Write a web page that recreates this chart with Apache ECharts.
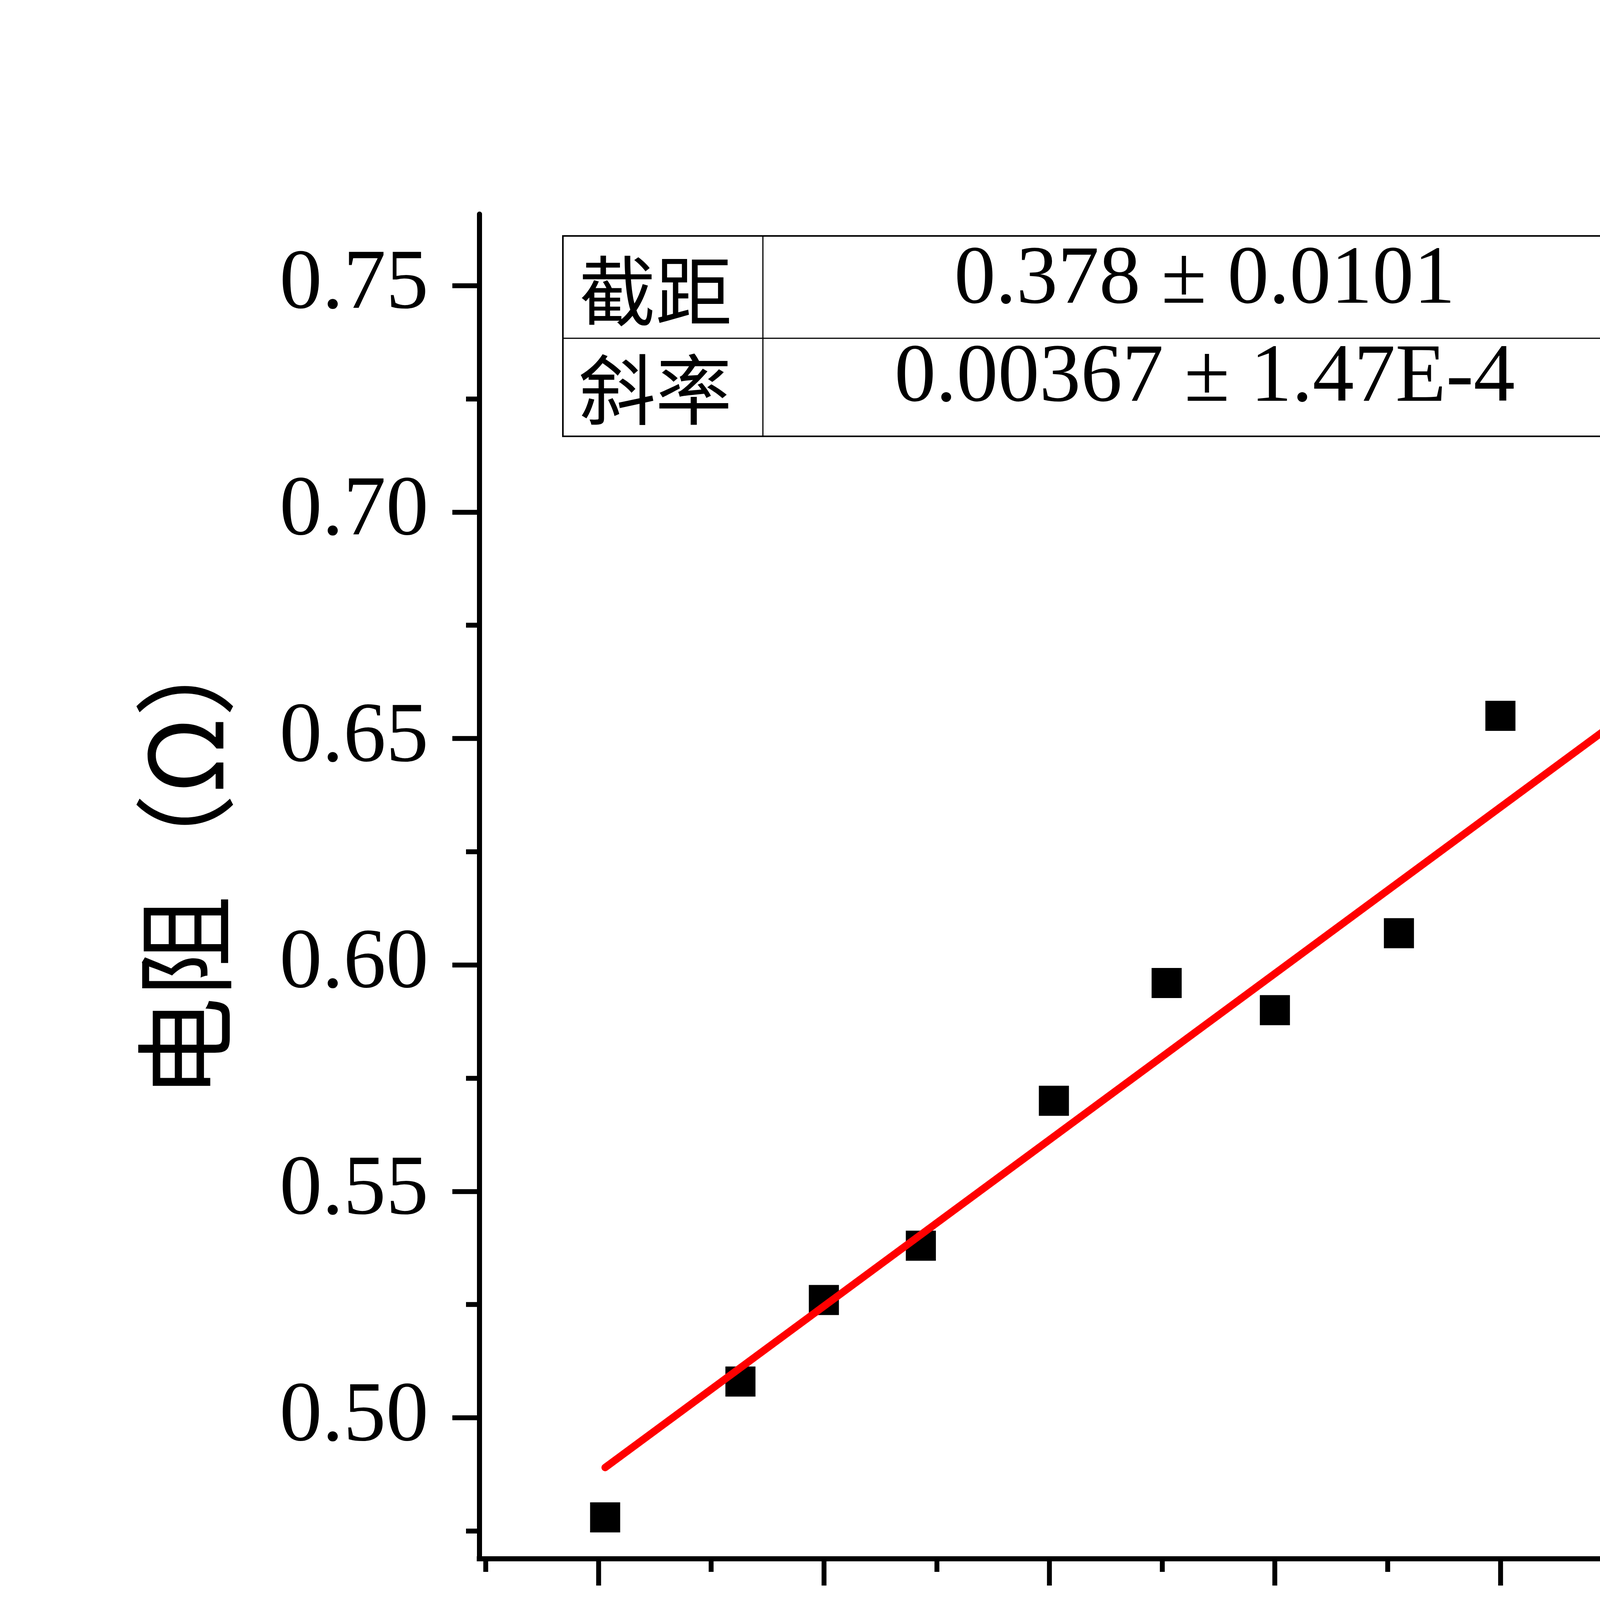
<!DOCTYPE html>
<html>
<head>
<meta charset="utf-8">
<script src="https://cdn.jsdelivr.net/npm/echarts@6/dist/echarts.min.js"></script>
<style>
  html, body { margin: 0; padding: 0; background: #fff; }
  #main { width: 6848px; height: 4784px; }
</style>
</head>
<body>
<div id="main"></div>
<script>
// 温度 (℃) 与 电阻 (Ω) 测量数据
var temps = [30.3, 36.3, 40.0, 44.3, 50.2, 55.2, 60.0, 65.5, 70.0, 75.2, 80.0, 85.2, 90.2, 95.0, 100.0];
var resist = [0.478, 0.508, 0.526, 0.538, 0.570, 0.596, 0.590, 0.607, 0.655, 0.667, 0.654, 0.691, 0.724, 0.720, 0.732];

// 线性拟合直线的两个端点
var fitX = [30.3, 100.0];
var fitY = [0.489, 0.745];

// 刻度
var xMajor = [30, 40, 50, 60, 70, 80, 90, 100];
var xMinor = [25, 35, 45, 55, 65, 75, 85, 95, 105];
var yMajor = [0.50, 0.55, 0.60, 0.65, 0.70, 0.75];
var yMinor = [0.475, 0.525, 0.575, 0.625, 0.675, 0.725];

// 拟合结果表
var fitNames = ['截距', '斜率'];
var fitValues = ['0.378 ± 0.0101', '0.00367 ± 1.47E-4'];

var serif = "'Liberation Serif', 'Noto Sans CJK SC', serif";
var cjk = "'Noto Sans CJK SC', sans-serif";

var chart = echarts.init(document.getElementById('main'), null, {
  renderer: 'canvas',
  devicePixelRatio: 1
});

var scatterData = temps.map(function (t, i) { return [t, resist[i]]; });
var fitData = fitX.map(function (t, i) { return [t, fitY[i]]; });

function majorAxis(opt) {
  return Object.assign({
    type: 'value',
    gridIndex: 0,
    axisLine: { show: true, onZero: false, lineStyle: { color: '#000', width: 13 } },
    axisTick: { show: true, inside: false, length: 69, lineStyle: { color: '#000', width: 12.5 } },
    axisLabel: { color: '#000', fontSize: 218, fontFamily: serif },
    splitLine: { show: false },
    nameTextStyle: { color: '#000', fontSize: 260, fontFamily: cjk }
  }, opt);
}

function minorAxis(opt) {
  return Object.assign({
    type: 'value',
    gridIndex: 0,
    axisLine: { show: false, onZero: false },
    axisTick: { show: true, inside: false, length: 34, lineStyle: { color: '#000', width: 12.5 } },
    axisLabel: { show: false },
    splitLine: { show: false }
  }, opt);
}

var option = {
  backgroundColor: '#fff',
  animation: false,
  grid: {
    left: 1227,
    right: 946,
    top: 548,
    bottom: 794,
    containLabel: false
  },
  xAxis: [
    majorAxis({
      position: 'bottom',
      min: 24.72,
      max: 105.7,
      axisLine: { show: true, onZero: false, lineStyle: { color: '#000', width: 13, cap: 'square' } },
      axisTick: { show: true, inside: false, length: 69, customValues: xMajor, lineStyle: { color: '#000', width: 12.5 } },
      axisLabel: { color: '#000', fontSize: 218, fontFamily: serif, margin: 120, customValues: xMajor },
      name: '温度（℃）',
      nameLocation: 'middle',
      nameGap: 405,
      nameTextStyle: { color: '#000', fontSize: 260, fontFamily: cjk, padding: [0, 0, 0, 80] }
    }),
    minorAxis({
      position: 'bottom',
      min: 24.72,
      max: 105.7,
      axisTick: { show: true, inside: false, length: 34, customValues: xMinor, lineStyle: { color: '#000', width: 12.5 } }
    })
  ],
  yAxis: [
    majorAxis({
      position: 'left',
      min: 0.4689,
      max: 0.7658,
      axisTick: { show: true, inside: false, length: 69, customValues: yMajor, lineStyle: { color: '#000', width: 12.5 } },
      axisLabel: {
        color: '#000', fontSize: 218, fontFamily: serif, margin: 130, customValues: yMajor,
        formatter: function (v) { return v.toFixed(2); }
      },
      name: '电阻（Ω）',
      nameLocation: 'middle',
      nameRotate: 90,
      nameGap: 624,
      nameTextStyle: { color: '#000', fontSize: 260, fontFamily: cjk, padding: [0, 0, 0, 150] }
    }),
    minorAxis({
      position: 'left',
      min: 0.4689,
      max: 0.7658,
      axisTick: { show: true, inside: false, length: 34, customValues: yMinor, lineStyle: { color: '#000', width: 12.5 } }
    })
  ],
  series: [
    {
      name: '电阻',
      type: 'scatter',
      xAxisIndex: 0,
      yAxisIndex: 0,
      symbol: 'rect',
      symbolSize: 77,
      itemStyle: { color: '#000', opacity: 1 },
      data: scatterData,
      z: 2
    },
    {
      name: '线性拟合',
      type: 'line',
      xAxisIndex: 0,
      yAxisIndex: 0,
      showSymbol: false,
      symbol: 'none',
      lineStyle: { color: '#ff0000', width: 19, cap: 'round' },
      data: fitData,
      z: 3
    }
  ],
  graphic: [
    // 拟合结果表：外框、分隔线和文字
    { type: 'rect', shape: { x: 1441, y: 604, width: 2771, height: 513 },
      style: { fill: '#fff', stroke: '#000', lineWidth: 4 }, z: 10 },
    { type: 'line', shape: { x1: 1441, y1: 866, x2: 4212, y2: 866 },
      style: { stroke: '#000', lineWidth: 3 }, z: 11 },
    { type: 'line', shape: { x1: 1953, y1: 604, x2: 1953, y2: 1117 },
      style: { stroke: '#000', lineWidth: 3 }, z: 11 },
    { type: 'text', x: 1678, y: 745, z: 11,
      style: { text: fitNames[0], fill: '#000', font: '196px ' + cjk, align: 'center', verticalAlign: 'middle' } },
    { type: 'text', x: 1678, y: 997, z: 11,
      style: { text: fitNames[1], fill: '#000', font: '196px ' + cjk, align: 'center', verticalAlign: 'middle' } },
    { type: 'text', x: 3084, y: 719, z: 11,
      style: { text: fitValues[0], fill: '#000', font: '212px ' + serif, align: 'center', verticalAlign: 'middle' } },
    { type: 'text', x: 3084, y: 970, z: 11,
      style: { text: fitValues[1], fill: '#000', font: '212px ' + serif, align: 'center', verticalAlign: 'middle' } }
  ]
};

chart.setOption(option);
</script>
</body>
</html>
